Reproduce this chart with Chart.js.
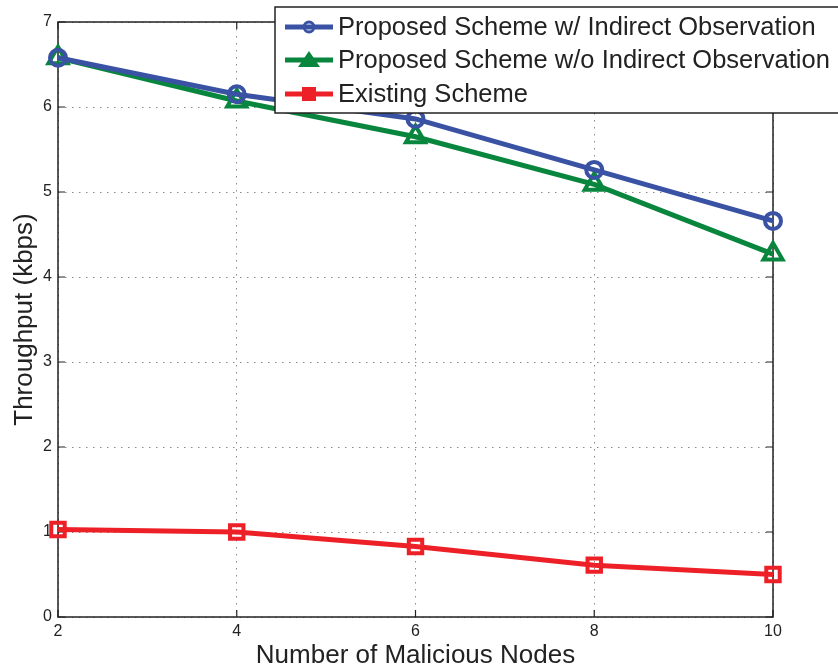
<!DOCTYPE html>
<html>
<head>
<meta charset="utf-8">
<script src="https://cdn.jsdelivr.net/npm/chart.js@4"></script>
<style>
  html, body { margin: 0; padding: 0; background: #fff; }
  #wrap { width: 838px; height: 670px; }
</style>
</head>
<body>
<div id="wrap"><canvas id="c" width="838" height="670"></canvas></div>
<script>
// Number of malicious nodes on the x axis
const maliciousNodes = [2, 4, 6, 8, 10];
// Throughput (kbps) per scheme
const withIndirect = [6.58, 6.15, 5.86, 5.26, 4.66];
const withoutIndirect = [6.58, 6.07, 5.65, 5.09, 4.27];
const existingScheme = [1.03, 1.00, 0.83, 0.61, 0.50];
// Tick labels
const xTicks = [2, 4, 6, 8, 10];
const yTicks = [0, 1, 2, 3, 4, 5, 6, 7];

const seriesNames = [
  'Proposed Scheme w/ Indirect Observation',
  'Proposed Scheme w/o Indirect Observation',
  'Existing Scheme'
];

const BLUE = 'rgb(58,82,164)';
const GREEN = 'rgb(8,134,62)';
const RED = 'rgb(237,32,39)';
const FONT = '"Liberation Sans", Arial, Helvetica, sans-serif';

const toPoints = ys => maliciousNodes.map((x, i) => ({ x, y: ys[i] }));

// Frame, inward tick marks and the boxed legend
const decorations = {
  id: 'decorations',
  beforeDatasetsDraw(chart) {
    const { ctx, chartArea: a, scales } = chart;
    ctx.save();
    ctx.strokeStyle = '#222';
    ctx.lineWidth = 1.5;
    ctx.strokeRect(a.left, a.top, a.right - a.left, a.bottom - a.top);
    ctx.lineWidth = 1.2;
    const len = 7;
    yTicks.forEach(v => {
      const y = scales.y.getPixelForValue(v);
      ctx.beginPath();
      ctx.moveTo(a.left, y); ctx.lineTo(a.left + len, y);
      ctx.moveTo(a.right, y); ctx.lineTo(a.right - len, y);
      ctx.stroke();
    });
    xTicks.forEach(v => {
      const x = scales.x.getPixelForValue(v);
      ctx.beginPath();
      ctx.moveTo(x, a.bottom); ctx.lineTo(x, a.bottom - len);
      ctx.moveTo(x, a.top); ctx.lineTo(x, a.top + len);
      ctx.stroke();
    });
    ctx.restore();
  },
  afterDraw(chart) {
    const { ctx } = chart;
    const box = { x: 275, y: 7, w: 600, h: 106 };
    const rows = [27, 60, 94];
    ctx.save();
    ctx.fillStyle = '#fff';
    ctx.fillRect(box.x, box.y, box.w, box.h);
    ctx.strokeStyle = '#222';
    ctx.lineWidth = 1.5;
    ctx.strokeRect(box.x, box.y, box.w, box.h);
    chart.data.datasets.forEach((ds, i) => {
      const y = rows[i];
      ctx.strokeStyle = ds.borderColor;
      ctx.lineWidth = 5;
      ctx.beginPath();
      ctx.moveTo(285, y); ctx.lineTo(333, y);
      ctx.stroke();
      ctx.fillStyle = ds.borderColor;
      ctx.lineWidth = 3;
      const cx = 309;
      if (ds.pointStyle === 'circle') {
        ctx.beginPath(); ctx.arc(cx, y, 5, 0, Math.PI * 2); ctx.stroke();
      } else if (ds.pointStyle === 'triangle') {
        ctx.beginPath();
        ctx.moveTo(cx, y - 9); ctx.lineTo(cx + 11, y + 7); ctx.lineTo(cx - 11, y + 7);
        ctx.closePath(); ctx.fill();
      } else {
        ctx.fillRect(cx - 7, y - 7, 14, 14);
      }
      ctx.fillStyle = '#222';
      ctx.font = '25.5px ' + FONT;
      ctx.textBaseline = 'middle';
      ctx.textAlign = 'left';
      ctx.fillText(seriesNames[i], 338, y + 1);
    });
    ctx.restore();
  }
};

const lineStyle = (color, style, radius) => ({
  borderColor: color, backgroundColor: 'rgba(255,255,255,0)',
  borderWidth: 5, pointStyle: style, pointRadius: radius,
  pointBorderWidth: 4, pointBackgroundColor: 'rgba(255,255,255,0)',
  pointBorderColor: color, clip: false
});

new Chart(document.getElementById('c'), {
  type: 'line',
  data: {
    datasets: [
      Object.assign({ label: seriesNames[0], data: toPoints(withIndirect) }, lineStyle(BLUE, 'circle', 8)),
      Object.assign({ label: seriesNames[1], data: toPoints(withoutIndirect) }, lineStyle(GREEN, 'triangle', 11)),
      Object.assign({ label: seriesNames[2], data: toPoints(existingScheme) }, lineStyle(RED, 'rect', 9.5))
    ]
  },
  options: {
    responsive: false,
    animation: false,
    layout: { padding: { left: 0, right: 65, top: 22, bottom: 0 } },
    plugins: { legend: { display: false }, tooltip: { enabled: false } },
    scales: {
      x: {
        type: 'linear', min: 2, max: 10,
        afterBuildTicks: s => { s.ticks = xTicks.map(v => ({ value: v })); },
        afterFit: s => { s.height = 53; },
        grid: { color: '#8a8a8a', lineWidth: 1, drawTicks: false },
        border: { display: false, dash: [1.5, 5.5] },
        ticks: { color: '#222', font: { family: FONT, size: 16 }, padding: 5, maxRotation: 0 },
        title: {
          display: true, text: 'Number of Malicious Nodes', color: '#222',
          font: { family: FONT, size: 26, lineHeight: 1 }, padding: { top: 0, bottom: 1 }
        }
      },
      y: {
        type: 'linear', min: 0, max: 7,
        afterBuildTicks: s => { s.ticks = yTicks.map(v => ({ value: v })); },
        afterFit: s => { s.width = 58; },
        grid: { color: '#8a8a8a', lineWidth: 1, drawTicks: false },
        border: { display: false, dash: [1.5, 5.5] },
        ticks: { color: '#222', font: { family: FONT, size: 16 }, padding: 6 },
        title: {
          display: true, text: 'Throughput (kbps)', color: '#222',
          font: { family: FONT, size: 26, lineHeight: 1 }, padding: { top: 12, bottom: 0 }
        }
      }
    }
  },
  plugins: [decorations]
});
</script>
</body>
</html>
